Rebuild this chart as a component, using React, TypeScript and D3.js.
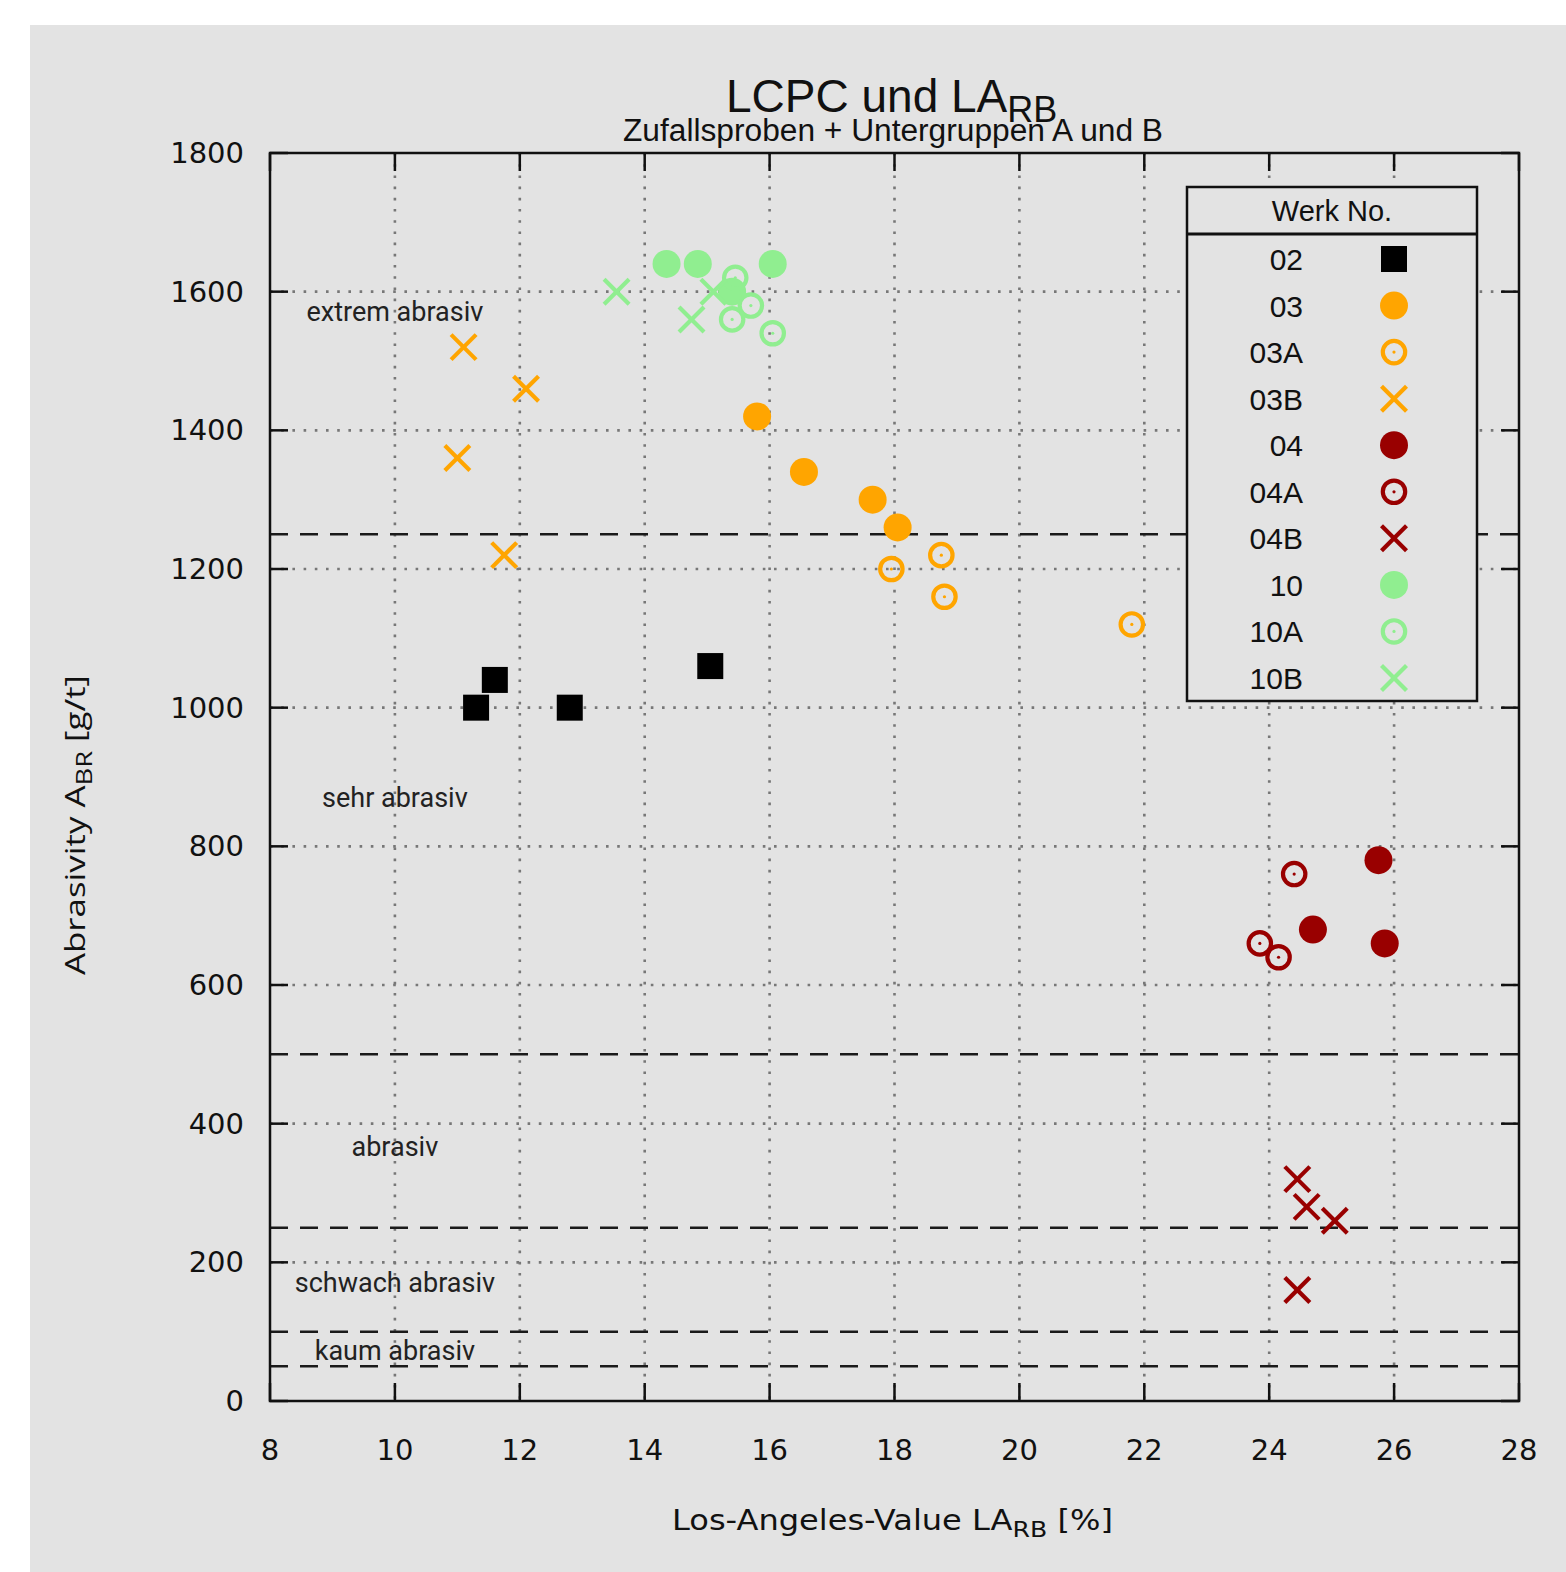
import React from 'react';
import * as d3 from 'd3';

// data: [LA_RB %, A_BR g/t]
const werk02 = [[11.3, 1000], [11.6, 1040], [12.8, 1000], [15.05, 1060]];
const werk03 = [[15.8, 1420], [16.55, 1340], [17.65, 1300], [18.05, 1260]];
const werk03A = [[17.95, 1200], [18.75, 1220], [18.8, 1160], [21.8, 1120]];
const werk03B = [[11.1, 1520], [12.1, 1460], [11.0, 1360], [11.75, 1220]];
const werk04 = [[25.75, 780], [24.7, 680], [25.85, 660]];
const werk04A = [[24.4, 760], [23.85, 660], [24.15, 640]];
const werk04B = [[24.45, 320], [24.6, 280], [25.05, 260], [24.45, 160]];
const werk10 = [[14.35, 1640], [14.85, 1640], [16.05, 1640], [15.4, 1600]];
const werk10A = [[15.45, 1620], [15.7, 1580], [15.4, 1560], [16.05, 1540]];
const werk10B = [[13.55, 1600], [14.75, 1560], [15.1, 1600]];

const xTicks = [8, 10, 12, 14, 16, 18, 20, 22, 24, 26, 28];
const yTicks = [0, 200, 400, 600, 800, 1000, 1200, 1400, 1600, 1800];
const classLimits = [1250, 500, 250, 100, 50];
const classLabels = ['extrem abrasiv', 'sehr abrasiv', 'abrasiv', 'schwach abrasiv', 'kaum abrasiv'];
const classLabelY = [1570, 870, 367, 170, 72];

const ORANGE = '#ffa500';
const DARKRED = '#990000';
const GREEN = '#90ee90';

const series = [
  { name: '02', data: werk02, color: '#000000', shape: 'square' },
  { name: '03', data: werk03, color: ORANGE, shape: 'dot' },
  { name: '03A', data: werk03A, color: ORANGE, shape: 'ring' },
  { name: '03B', data: werk03B, color: ORANGE, shape: 'cross' },
  { name: '04', data: werk04, color: DARKRED, shape: 'dot' },
  { name: '04A', data: werk04A, color: DARKRED, shape: 'ring' },
  { name: '04B', data: werk04B, color: DARKRED, shape: 'cross' },
  { name: '10', data: werk10, color: GREEN, shape: 'dot' },
  { name: '10A', data: werk10A, color: GREEN, shape: 'ring' },
  { name: '10B', data: werk10B, color: GREEN, shape: 'cross' },
];

const left = 270, right = 1519, top = 153, bottom = 1401;
const x = d3.scaleLinear().domain([8, 28]).range([left, right]);
const y = d3.scaleLinear().domain([0, 1800]).range([bottom, top]);

function Marker({ shape, color, cx, cy }) {
  if (shape === 'square') {
    return <rect x={cx - 13} y={cy - 13} width={26} height={26} fill={color} />;
  }
  if (shape === 'dot') {
    return <circle cx={cx} cy={cy} r={14} fill={color} />;
  }
  if (shape === 'ring') {
    return (
      <g>
        <circle cx={cx} cy={cy} r={11.2} fill="none" stroke={color} strokeWidth={4.2} />
        <circle cx={cx} cy={cy} r={1.6} fill={color} />
      </g>
    );
  }
  const h = 12.5;
  return (
    <g stroke={color} strokeWidth={4.2}>
      <line x1={cx - h} y1={cy - h} x2={cx + h} y2={cy + h} />
      <line x1={cx - h} y1={cy + h} x2={cx + h} y2={cy - h} />
    </g>
  );
}

export default function App() {
  const tickFont = { fontFamily: 'DejaVu Sans', fontSize: 29, fill: '#111' };
  const legX = 1187, legY = 187, legW = 290, legH = 514;
  const rowY = d3.scaleLinear().domain([0, series.length - 1]).range([259, 678]);

  return (
    <svg width={1566} height={1572} style={{ position: 'absolute', left: 0, top: 0 }}>
      <rect x={0} y={0} width={1566} height={1572} fill="#ffffff" />
      <rect x={30} y={25} width={1536} height={1547} fill="#e3e3e3" />

      {/* grid */}
      <g stroke="#777" strokeWidth={2.6} strokeDasharray="2.6 8.6">
        {xTicks.slice(1, -1).map(t => (
          <line key={'gx' + t} x1={x(t)} x2={x(t)} y1={top} y2={bottom} />
        ))}
        {yTicks.slice(1, -1).map(t => (
          <line key={'gy' + t} x1={left} x2={right} y1={y(t)} y2={y(t)} />
        ))}
      </g>

      {/* class limits */}
      <g stroke="#1a1a1a" strokeWidth={2.5} strokeDasharray="18 12">
        {classLimits.map(v => (
          <line key={'c' + v} x1={left} x2={right} y1={y(v)} y2={y(v)} />
        ))}
      </g>

      {/* ticks */}
      <g stroke="#111" strokeWidth={2.5}>
        {xTicks.map(t => (
          <g key={'tx' + t}>
            <line x1={x(t)} x2={x(t)} y1={bottom} y2={bottom - 18} />
            <line x1={x(t)} x2={x(t)} y1={top} y2={top + 18} />
          </g>
        ))}
        {yTicks.map(t => (
          <g key={'ty' + t}>
            <line x1={left} x2={left + 18} y1={y(t)} y2={y(t)} />
            <line x1={right} x2={right - 18} y1={y(t)} y2={y(t)} />
          </g>
        ))}
      </g>
      <rect x={left} y={top} width={right - left} height={bottom - top} fill="none" stroke="#111" strokeWidth={2.5} />

      {/* tick labels */}
      {xTicks.map(t => (
        <text key={'lx' + t} x={x(t)} y={1460} textAnchor="middle" style={tickFont}>{t}</text>
      ))}
      {yTicks.map(t => (
        <text key={'ly' + t} x={244} y={y(t) + 10} textAnchor="end" style={tickFont}>{t}</text>
      ))}

      {/* class labels */}
      {classLabels.map((s, i) => (
        <text key={s} x={x(10)} y={y(classLabelY[i]) + 9} textAnchor="middle"
          style={{ fontFamily: 'Roboto', fontSize: 27, fill: '#222' }}>{s}</text>
      ))}

      {/* points */}
      {series.map(s => (
        <g key={s.name}>
          {s.data.map((d, i) => (
            <Marker key={i} shape={s.shape} color={s.color} cx={x(d[0])} cy={y(d[1])} />
          ))}
        </g>
      ))}

      {/* legend */}
      <rect x={legX} y={legY} width={legW} height={legH} fill="#e3e3e3" stroke="#111" strokeWidth={2.5} />
      <line x1={legX} x2={legX + legW} y1={234} y2={234} stroke="#111" strokeWidth={3} />
      <text x={legX + legW / 2} y={221} textAnchor="middle"
        style={{ fontFamily: 'Liberation Sans', fontSize: 29, fill: '#111' }}>Werk No.</text>
      {series.map((s, i) => (
        <g key={'leg' + s.name}>
          <text x={1303} y={rowY(i) + 11} textAnchor="end"
            style={{ fontFamily: 'Liberation Sans', fontSize: 30, fill: '#111' }}>{s.name}</text>
          <Marker shape={s.shape} color={s.color} cx={1394} cy={rowY(i)} />
        </g>
      ))}

      {/* titles */}
      <text x={726} y={112} style={{ fontFamily: 'Liberation Sans', fontSize: 46, fill: '#111' }}>
        LCPC und LA<tspan fontSize={36} dy={10}>RB</tspan>
      </text>
      <text x={623} y={141} textLength={540} lengthAdjust="spacingAndGlyphs"
        style={{ fontFamily: 'Liberation Sans', fontSize: 31, fill: '#111' }}>
        Zufallsproben + Untergruppen A und B
      </text>

      {/* axis labels */}
      <text x={672} y={1530} textLength={441} lengthAdjust="spacingAndGlyphs"
        style={{ fontFamily: 'DejaVu Sans', fontSize: 28, fill: '#111' }}>
        Los-Angeles-Value LA<tspan fontSize={22} dy={7}>RB</tspan><tspan dy={-7}> [%]</tspan>
      </text>
      <text transform="translate(85, 975) rotate(-90)" textLength={300} lengthAdjust="spacingAndGlyphs"
        style={{ fontFamily: 'Open Sans', fontSize: 28, fill: '#111' }}>
        Abrasivity A<tspan fontSize={22} dy={7}>BR</tspan><tspan dy={-7}> [g/t]</tspan>
      </text>
    </svg>
  );
}
